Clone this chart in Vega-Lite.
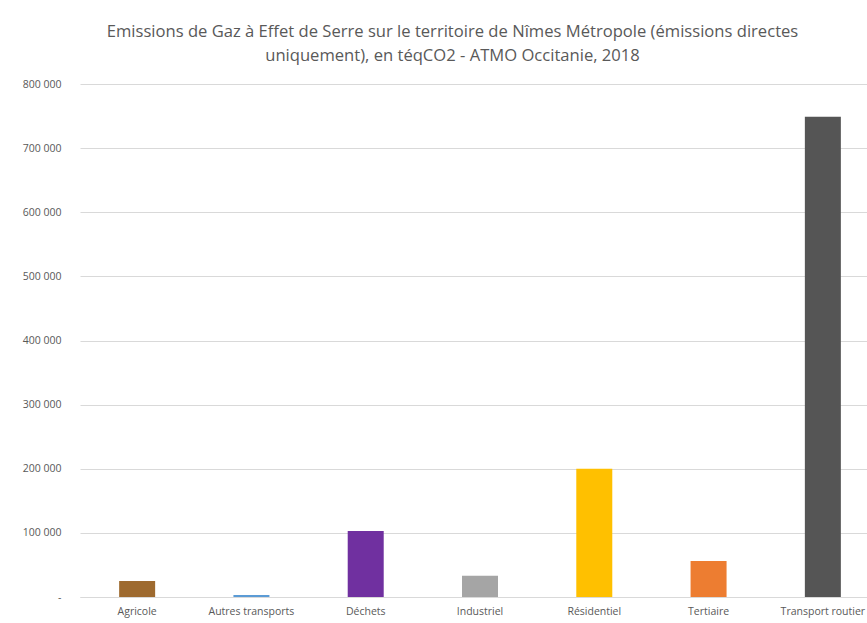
{
  "$schema": "https://vega.github.io/schema/vega-lite/v6.json",
  "autosize": "none",
  "padding": {"left": 80, "top": 84, "right": 0, "bottom": 26},
  "width": 787,
  "height": 513,
  "background": "white",
  "title": {
    "text": ["Emissions de Gaz à Effet de Serre sur le territoire de Nîmes Métropole (émissions directes", "uniquement), en téqCO2 - ATMO Occitanie, 2018"],
    "font": "Open Sans",
    "fontSize": 16.6,
    "fontWeight": "normal",
    "color": "#595959",
    "lineHeight": 24,
    "anchor": "middle",
    "dx": -21,
    "offset": 14
  },
  "config": {
    "view": {"stroke": null},
    "axis": {"labelFont": "Open Sans", "labelColor": "#595959", "labelFontSize": 10.5}
  },
  "data": {
    "values": [
      {"secteur": "Agricole", "emissions": 25000},
      {"secteur": "Autres transports", "emissions": 3000},
      {"secteur": "Déchets", "emissions": 103000},
      {"secteur": "Industriel", "emissions": 33000},
      {"secteur": "Résidentiel", "emissions": 200000},
      {"secteur": "Tertiaire", "emissions": 56000},
      {"secteur": "Transport routier", "emissions": 749000}
    ]
  },
  "mark": {"type": "bar"},
  "encoding": {
    "x": {
      "field": "secteur",
      "type": "nominal",
      "sort": null,
      "scale": {"range": [0, 800], "paddingInner": 0.685, "paddingOuter": 0.3425},
      "axis": {"title": null, "labelAngle": 0, "ticks": false, "domainColor": "#d9d9d9", "domainWidth": 1, "labelPadding": 9}
    },
    "y": {
      "field": "emissions",
      "type": "quantitative",
      "scale": {"domain": [0, 800000], "nice": false},
      "axis": {
        "title": null,
        "values": [0, 100000, 200000, 300000, 400000, 500000, 600000, 700000, 800000],
        "labelExpr": "datum.value == 0 ? '-' : format(datum.value / 1000, 'd') + ' 000'",
        "ticks": false,
        "domain": false,
        "gridColor": "#d9d9d9",
        "gridWidth": 1,
        "labelPadding": 19
      }
    },
    "color": {
      "field": "secteur",
      "type": "nominal",
      "legend": null,
      "scale": {
        "domain": ["Agricole", "Autres transports", "Déchets", "Industriel", "Résidentiel", "Tertiaire", "Transport routier"],
        "range": ["#9e6a2f", "#5b9bd5", "#7030a0", "#a5a5a5", "#ffc000", "#ed7d31", "#555555"]
      }
    }
  }
}
